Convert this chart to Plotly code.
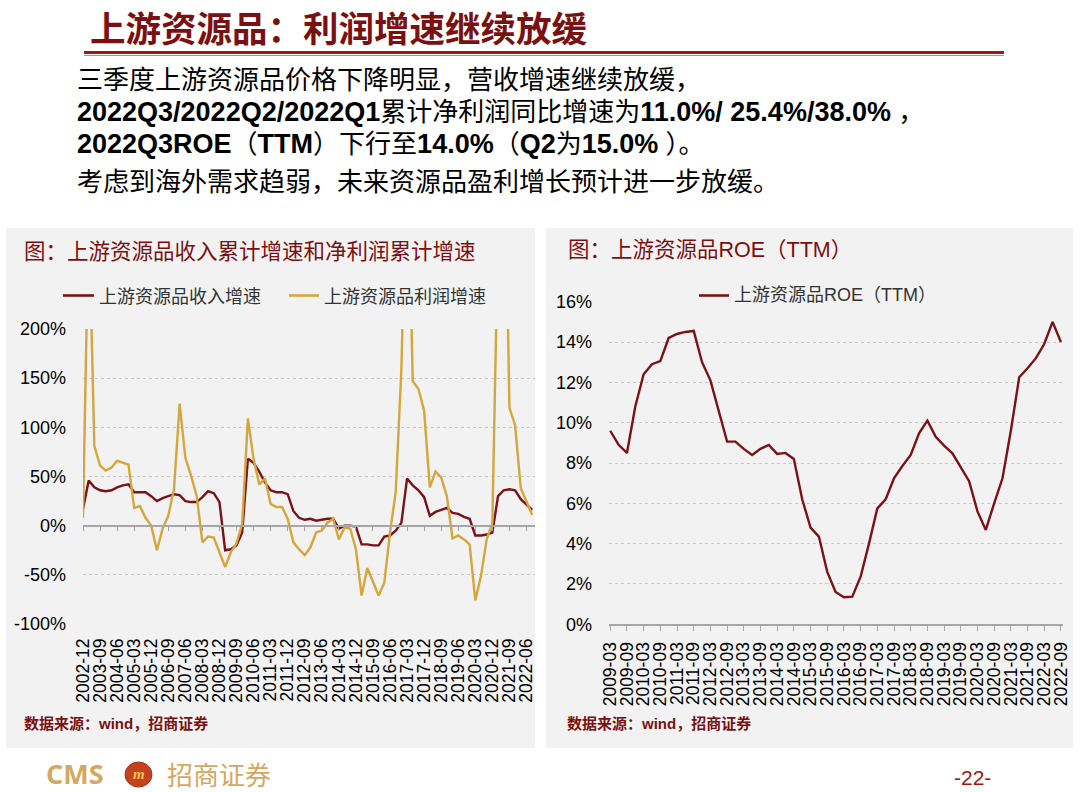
import plotly.graph_objects as go
import pandas as pd

W, H = 1080, 792

# ---------------- data ----------------
quarters_left = [p.strftime("%Y-%m") for p in pd.period_range("2002Q4", "2022Q3", freq="Q").to_timestamp(how="end")]
revenue_growth = [17, 46, 39, 36, 35, 36, 39, 41, 42, 34,
                  34, 34, 30, 25, 28, 30, 32, 31, 25, 24,
                  24, 29, 35, 33, 24, -25, -24, -20, -7, 68,
                  64, 55, 44, 36, 34, 34, 32, 15, 8, 6,
                  7, 5, 6, 7, 7, -3, 0, 0, -1, -19,
                  -19, -20, -20, -11, -10, -5, 3, 48, 41, 36,
                  29, 10, 14, 16, 18, 13, 12, 9, 7, -10,
                  -10, -9, -7, 30, 36, 37, 36, 27, 22, 16]
profit_growth = [8, 320, 81, 61, 56, 59, 66, 64, 62, 18,
                 20, 8, 0, -25, -3, 10, 37, 124, 69, 51,
                 30, -17, -11, -12, -27, -42, -27, -18, 2, 109,
                 68, 42, 48, 22, 19, 19, 7, -17, -24, -30,
                 -22, -7, -5, 3, 7, -14, -2, -3, -24, -71,
                 -43, -58, -71, -58, -7, 34, 159, 400, 147, 139,
                 117, 39, 55, 49, 30, -13, -10, -14, -19, -76,
                 -51, -14, 3, 300, 450, 120, 102, 38.0, 25.4, 11.0]
left_ticks = quarters_left[::3]
left_yticks = [-100, -50, 0, 50, 100, 150, 200]

quarters_right = [p.strftime("%Y-%m") for p in pd.period_range("2009Q1", "2022Q3", freq="Q").to_timestamp(how="end")]
roe_ttm = [9.6, 8.9, 8.5, 10.8, 12.4, 12.9, 13.05, 14.2, 14.4, 14.5,
           14.55, 13.0, 12.1, 10.6, 9.06, 9.06, 8.7, 8.4, 8.7, 8.9,
           8.45, 8.5, 8.2, 6.2, 4.8, 4.35, 2.6, 1.6, 1.34, 1.37,
           2.36, 4.0, 5.75, 6.2, 7.24, 7.85, 8.4, 9.47, 10.1, 9.3,
           8.86, 8.48, 7.8, 7.1, 5.6, 4.68, 6.0, 7.24, 9.6, 12.25,
           12.7, 13.2, 13.9, 15.0, 14.0]
right_ticks = quarters_right[::2]
right_yticks = [0, 2, 4, 6, 8, 10, 12, 14, 16]

RED = "#7B1216"
GOLD = "#D4A63C"
TITLE_RED = "#7A1010"
GRID = "#C9C9C9"
AXIS = "#A6A6A6"
CJK = "Noto Sans CJK SC"
LAT = "Liberation Sans, Noto Sans CJK SC"


def px(x):
    return x / W


def py(y):
    return 1 - y / H


fig = go.Figure()
fig.add_trace(go.Scatter(x=quarters_left, y=revenue_growth, mode="lines", name="上游资源品收入增速",
                         line=dict(color=RED, width=2.4), xaxis="x", yaxis="y", showlegend=False))
fig.add_trace(go.Scatter(x=quarters_left, y=profit_growth, mode="lines", name="上游资源品利润增速",
                         line=dict(color=GOLD, width=2.4), xaxis="x", yaxis="y", showlegend=False))
# dummy trace for zero-line axis
fig.add_trace(go.Scatter(x=quarters_left, y=[None] * len(quarters_left), mode="lines",
                         xaxis="x3", yaxis="y", showlegend=False, hoverinfo="skip"))
fig.add_trace(go.Scatter(x=quarters_right, y=roe_ttm, mode="lines", name="上游资源品ROE（TTM）",
                         line=dict(color=RED, width=2.4), xaxis="x2", yaxis="y2", showlegend=False))

L_DOM = [px(83), px(535)]
L_YDOM = [py(624), py(329)]
R_DOM = [px(609), px(1063)]
R_YDOM = [py(624.3), py(301.7)]
zero_pos = L_YDOM[0] + (L_YDOM[1] - L_YDOM[0]) * (100 / 300)

ytickfont = dict(family=LAT, size=18, color="#000000")
xtickfont = dict(family=LAT, size=17.5, color="#000000")

fig.update_layout(
    width=W, height=H, margin=dict(l=0, r=0, t=0, b=0, autoexpand=False),
    paper_bgcolor="#FFFFFF", plot_bgcolor="rgba(0,0,0,0)",
    xaxis=dict(domain=L_DOM, anchor="y", type="category", range=[0, 79.5], automargin=False,
               tickmode="array", tickvals=left_ticks, ticktext=left_ticks, tickangle=-90,
               showgrid=False, ticks="", showline=False, zeroline=False,
               tickfont=xtickfont, ticklabelstandoff=10),
    xaxis3=dict(domain=L_DOM, anchor="free", position=zero_pos, overlaying="x", type="category",
                range=[0, 79.5], tickmode="array", tickvals=left_ticks, showticklabels=False,
                showgrid=False, ticks="outside", ticklen=5, tickcolor=AXIS, tickwidth=1.3,
                showline=True, linecolor=AXIS, linewidth=1.6, zeroline=False, automargin=False),
    yaxis=dict(domain=L_YDOM, anchor="x", range=[-100, 200], tickmode="array", tickvals=left_yticks,
               ticktext=[f"{v}%" for v in left_yticks], showgrid=True, gridcolor=GRID, griddash="3px,3px",
               gridwidth=1, zeroline=False, showline=False, ticks="", tickfont=ytickfont,
               ticklabelstandoff=16, automargin=False),
    xaxis2=dict(domain=R_DOM, anchor="y2", type="category", range=[-0.15, 54.25], automargin=False,
                tickmode="array", tickvals=right_ticks, ticktext=right_ticks, tickangle=-90,
                showgrid=False, ticks="outside", ticklen=5, tickcolor=AXIS, tickwidth=1.3,
                showline=True, linecolor=AXIS, linewidth=1.6, zeroline=False,
                tickfont=xtickfont, ticklabelstandoff=4),
    yaxis2=dict(domain=R_YDOM, anchor="x2", range=[0, 16], tickmode="array", tickvals=right_yticks,
                ticktext=[f"{v}%" for v in right_yticks], showgrid=True, gridcolor=GRID, griddash="3px,3px",
                gridwidth=1, zeroline=False, showline=False, ticks="", tickfont=ytickfont,
                ticklabelstandoff=16, automargin=False),
)

shapes = [
    # panels
    dict(type="rect", xref="paper", yref="paper", x0=px(6), x1=px(535), y0=py(748), y1=py(228),
         fillcolor="#F2F2F2", line=dict(width=0), layer="below"),
    dict(type="rect", xref="paper", yref="paper", x0=px(546), x1=px(1073), y0=py(748), y1=py(228),
         fillcolor="#F2F2F2", line=dict(width=0), layer="below"),
    # title underline
    dict(type="line", xref="paper", yref="paper", x0=px(84), x1=px(1004), y0=py(52.5), y1=py(52.5),
         line=dict(color="#9C1A1D", width=3)),
    dict(type="line", xref="paper", yref="paper", x0=px(84), x1=px(1004), y0=py(55.5), y1=py(55.5),
         line=dict(color="#C98282", width=1)),
    # legend lines
    dict(type="line", xref="paper", yref="paper", x0=px(63), x1=px(94), y0=py(295.5), y1=py(295.5),
         line=dict(color=RED, width=2.6)),
    dict(type="line", xref="paper", yref="paper", x0=px(289), x1=px(319), y0=py(295.5), y1=py(295.5),
         line=dict(color=GOLD, width=2.6)),
    dict(type="line", xref="paper", yref="paper", x0=px(699), x1=px(729), y0=py(295.5), y1=py(295.5),
         line=dict(color=RED, width=2.6)),
    # logo circle
    dict(type="circle", xref="paper", yref="paper", x0=px(125), x1=px(152), y0=py(787), y1=py(762),
         fillcolor="#C4421C", line=dict(color="#A8301A", width=1)),
]
fig.update_layout(shapes=shapes)


def ann(text, x, y, size, color="#000000", family=CJK, xanchor="left"):
    fig.add_annotation(text=text, x=px(x), y=py(y), xref="paper", yref="paper", showarrow=False,
                       xanchor=xanchor, yanchor="middle", align="left", borderpad=0,
                       font=dict(size=size, color=color, family=family))


B = '<span style="font-size:27px"><b>{}</b></span>'

ann("<b>上游资源品：利润增速继续放缓</b>", 89, 26, 35.5, TITLE_RED)
ann("三季度上游资源品价格下降明显，营收增速继续放缓，", 76, 80, 26, "#000000", LAT)
ann(B.format("2022Q3/2022Q2/2022Q1") + "累计净利润同比增速为" + B.format("11.0%/ 25.4%/38.0%") + " ，",
    76, 112, 26, "#000000", LAT)
ann(B.format("2022Q3ROE") + "（" + B.format("TTM") + "）下行至" + B.format("14.0%") + "（" + B.format("Q2")
    + "为" + B.format("15.0%") + " ）。", 76, 144, 26, "#000000", LAT)
ann("考虑到海外需求趋弱，未来资源品盈利增长预计进一步放缓。", 76, 182, 26, "#000000", LAT)

ann("图：上游资源品收入累计增速和净利润累计增速", 23, 250, 21.5, TITLE_RED)
ann("图：上游资源品ROE（TTM）", 567, 250, 21.5, TITLE_RED, LAT)

ann("上游资源品收入增速", 98, 295.5, 18, "#333333")
ann("上游资源品利润增速", 323, 295.5, 18, "#333333")
ann("上游资源品ROE（TTM）", 733, 295.5, 18, "#333333", LAT)

ann("<b>数据来源：wind，招商证券</b>", 23, 723, 15, TITLE_RED, LAT)
ann("<b>数据来源：wind，招商证券</b>", 566, 723, 15, TITLE_RED, LAT)

ann("<b>CMS</b>", 45, 773, 27, "#D4A862", "Open Sans, Liberation Sans")
ann("<b><i>m</i></b>", 138.5, 773.5, 15, "#F2C75C", "Liberation Serif", xanchor="center")
ann("招商证券", 166, 773, 26, "#D4A862")
ann("-22-", 953, 777, 21, "#A31515", "Liberation Sans")

fig.write_html("out.html",
               post_script="document.body.style.margin='0';document.body.style.padding='0';"
                           "document.body.style.overflow='hidden';")
